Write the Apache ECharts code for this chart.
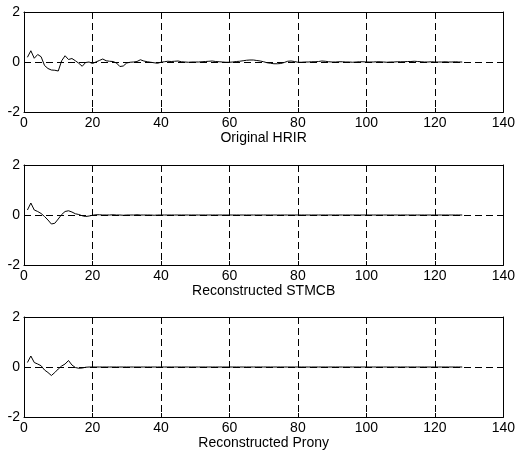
<!DOCTYPE html>
<html>
<head>
<meta charset="utf-8">
<script src="https://cdn.jsdelivr.net/npm/echarts@6/dist/echarts.min.js"></script>
<style>
  html, body { margin: 0; padding: 0; background: #fff; }
  #chart { width: 518px; height: 453px; }
</style>
</head>
<body>
<div id="chart"></div>
<script>
// Impulse responses, samples 1..128
const hrirOriginal = [
  0.19, 0.45, 0.15, 0.30, 0.21, -0.14, -0.26, -0.32, -0.33, -0.36,
  0.05, 0.25, 0.10, 0.14, 0.05, -0.05, -0.17, -0.02, 0.00, -0.06,
  0.00, 0.06, 0.12, 0.05, 0.03, 0.02, -0.04, -0.18, -0.16, -0.04,
  -0.01, 0.00, 0.02, 0.09, 0.04, 0.01, -0.01, -0.03, -0.05, -0.01,
  0.01, 0.03, 0.02, 0.03, 0.04, 0.01, 0.00, -0.01, 0.00, 0.00,
  0.00, 0.01, 0.02, 0.03, 0.04, 0.02, 0.01, 0.00, -0.01, -0.01,
  0.00, 0.02, 0.03, 0.05, 0.07, 0.08, 0.08, 0.06, 0.04, 0.01,
  -0.03, -0.05, -0.07, -0.07, -0.06, -0.02, 0.03, 0.04, 0.02, -0.01,
  -0.01, 0.00, 0.00, 0.01, 0.01, 0.02, 0.04, 0.03, 0.01, 0.00,
  0.00, 0.01, 0.01, 0.00, 0.00, -0.01, 0.00, 0.01, 0.01, 0.00,
  0.00, 0.00, 0.01, 0.01, 0.00, -0.01, 0.00, 0.00, 0.01, 0.01,
  0.01, 0.02, 0.02, 0.03, 0.02, 0.01, 0.00, 0.00, 0.01, 0.00,
  0.00, 0.00, 0.01, 0.00, 0.00, 0.01, 0.00, 0.00
];

const hrirStmcb = [
  0.20, 0.48, 0.20, 0.14, 0.06, -0.06, -0.20, -0.36, -0.33, -0.16,
  0.02, 0.14, 0.17, 0.12, 0.05, 0.02, -0.03, -0.06, -0.04, -0.01,
  0.01, 0.01, 0.00, 0.00, 0.00, 0.01, 0.00, 0.00, -0.01, 0.00,
  0.00, 0.00, 0.01, 0.00, 0.00, 0.00, 0.00, -0.01, 0.00, 0.00,
  0.00, 0.00, 0.00, 0.00, 0.00, 0.00, 0.00, 0.00, 0.00, 0.00,
  0.00, 0.00, 0.00, 0.00, 0.00, 0.00, 0.00, 0.00, 0.00, 0.00,
  0.00, 0.00, 0.00, 0.00, 0.00, 0.00, 0.00, 0.00, 0.00, 0.00,
  0.00, 0.00, 0.00, 0.00, 0.00, 0.00, 0.00, 0.00, 0.00, 0.00,
  0.00, 0.00, 0.00, 0.00, 0.00, 0.00, 0.00, 0.00, 0.00, 0.00,
  0.00, 0.00, 0.00, 0.00, 0.00, 0.00, 0.00, 0.00, 0.00, 0.00,
  0.00, 0.00, 0.00, 0.00, 0.00, 0.00, 0.00, 0.00, 0.00, 0.00,
  0.00, 0.00, 0.00, 0.00, 0.00, 0.00, 0.00, 0.00, 0.00, 0.00,
  0.00, 0.00, 0.00, 0.00, 0.00, 0.00, 0.00, 0.00
];

const hrirProny = [
  0.18, 0.44, 0.18, 0.12, 0.05, -0.12, -0.22, -0.34, -0.22, -0.08,
  0.04, 0.12, 0.26, 0.08, -0.02, -0.05, -0.04, -0.01, 0.00, 0.00,
  0.00, 0.00, 0.00, 0.00, 0.00, 0.00, 0.00, 0.00, 0.00, 0.00,
  0.00, 0.00, 0.00, 0.00, 0.00, 0.00, 0.00, 0.00, 0.00, 0.00,
  0.00, 0.00, 0.00, 0.00, 0.00, 0.00, 0.00, 0.00, 0.00, 0.00,
  0.00, 0.00, 0.00, 0.00, 0.00, 0.00, 0.00, 0.00, 0.00, 0.00,
  0.00, 0.00, 0.00, 0.00, 0.00, 0.00, 0.00, 0.00, 0.00, 0.00,
  0.00, 0.00, 0.00, 0.00, 0.00, 0.00, 0.00, 0.00, 0.00, 0.00,
  0.00, 0.00, 0.00, 0.00, 0.00, 0.00, 0.00, 0.00, 0.00, 0.00,
  0.00, 0.00, 0.00, 0.00, 0.00, 0.00, 0.00, 0.00, 0.00, 0.00,
  0.00, 0.00, 0.00, 0.00, 0.00, 0.00, 0.00, 0.00, 0.00, 0.00,
  0.00, 0.00, 0.00, 0.00, 0.00, 0.00, 0.00, 0.00, 0.00, 0.00,
  0.00, 0.00, 0.00, 0.00, 0.00, 0.00, 0.00, 0.00
];

const panelTitles = ['Original HRIR', 'Reconstructed STMCB', 'Reconstructed Prony'];
const panelSeries = [hrirOriginal, hrirStmcb, hrirProny];

const xRange = { min: 0, max: 140, interval: 20 };
const yRange = { min: -2, max: 2, interval: 2 };

const FONT = 'Liberation Sans, Arial, sans-serif';
const gridTops = [12, 165, 317];
const gridHeight = 100;

const grids = [], xAxes = [], yAxes = [], series = [];

gridTops.forEach((top, i) => {
  grids.push({ left: 24, top: top, width: 480, height: gridHeight, containLabel: false });

  const frameLine = { show: true, onZero: false, lineStyle: { color: '#000', width: 1 } };
  const innerTick = { show: true, inside: true, length: 4, lineStyle: { color: '#000', width: 1 } };
  const dashed = { show: true, lineStyle: { color: '#000', width: 1, type: [7, 4] } };

  // bottom axis with labels and vertical grid
  xAxes.push({
    gridIndex: i, type: 'value', position: 'bottom',
    min: xRange.min, max: xRange.max, interval: xRange.interval,
    axisLine: frameLine, axisTick: innerTick, splitLine: dashed,
    axisLabel: { color: '#000', fontSize: 14, fontFamily: FONT, margin: 4 },
    name: panelTitles[i], nameLocation: 'middle', nameGap: 18,
    nameTextStyle: { color: '#000', fontSize: 14, fontFamily: FONT }
  });
  // top frame edge
  xAxes.push({
    gridIndex: i, type: 'value', position: 'top',
    min: xRange.min, max: xRange.max, interval: xRange.interval,
    axisLine: frameLine, axisTick: innerTick,
    axisLabel: { show: false }, splitLine: { show: false }
  });
  // left axis with labels and horizontal grid
  yAxes.push({
    gridIndex: i, type: 'value', position: 'left',
    min: yRange.min, max: yRange.max, interval: yRange.interval,
    axisLine: frameLine, axisTick: innerTick, splitLine: dashed,
    axisLabel: { color: '#000', fontSize: 14, fontFamily: FONT, margin: 4 }
  });
  // right frame edge
  yAxes.push({
    gridIndex: i, type: 'value', position: 'right',
    min: yRange.min, max: yRange.max, interval: yRange.interval,
    axisLine: frameLine, axisTick: innerTick,
    axisLabel: { show: false }, splitLine: { show: false }
  });

  series.push({
    type: 'line',
    xAxisIndex: i * 2, yAxisIndex: i * 2,
    data: panelSeries[i].map((v, k) => [k + 1, v]),
    showSymbol: false, symbol: 'none',
    lineStyle: { color: '#000', width: 1 },
    animation: false, silent: true, z: 5
  });
});

const chart = echarts.init(document.getElementById('chart'), null, { renderer: 'canvas' });
chart.setOption({
  backgroundColor: '#fff',
  animation: false,
  grid: grids,
  xAxis: xAxes,
  yAxis: yAxes,
  series: series
});
</script>
</body>
</html>
